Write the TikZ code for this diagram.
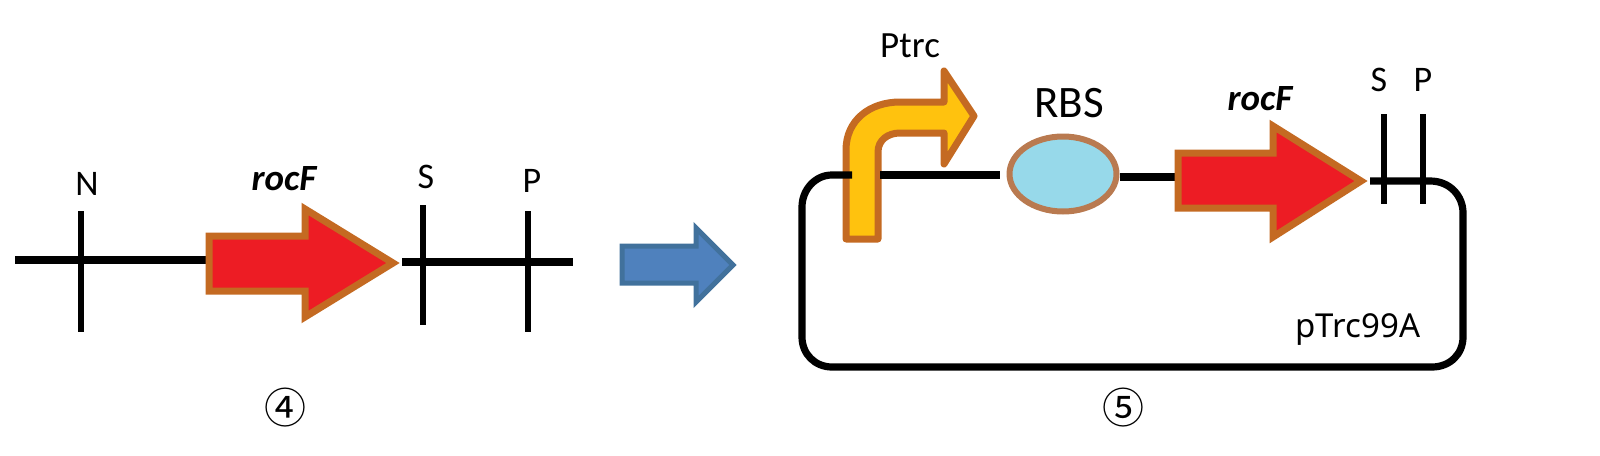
\documentclass[tikz,border=0pt]{standalone}
\usepackage{fontspec}
\setmainfont{Carlito}
\newfontfamily\circfont{Noto Sans CJK SC}
\newfontfamily\vecfont{Noto Sans}
\definecolor{geneedge}{HTML}{C46A22}
\definecolor{genered}{HTML}{ED1C24}
\definecolor{promfill}{HTML}{FFC20E}
\definecolor{rbsfill}{HTML}{97D9EA}
\definecolor{rbsedge}{HTML}{B97A50}
\definecolor{blueedge}{HTML}{41719C}
\definecolor{bluefill}{HTML}{4F81BD}
\tikzset{
  dnaline/.style={line width=7.2pt,black,line cap=butt},
  sitemark/.style={line width=6.6pt,black},
  genearrow/.style={draw=geneedge,fill=genered,line width=7pt,miter limit=10},
  promarrow/.style={draw=geneedge,fill=promfill,line width=7pt,line join=round},
  bigarrow/.style={draw=blueedge,fill=bluefill,line width=5pt},
  rbsshape/.style={ellipse,draw=rbsedge,fill=rbsfill,line width=6pt,inner sep=0pt,minimum width=107pt,minimum height=75pt},
  lab/.style={anchor=base,inner sep=0pt,text=black,font=\fontsize{36}{36}\selectfont},
  genelab/.style={anchor=base,inner sep=0pt,text=black,font=\fontsize{37}{37}\selectfont\bfseries\itshape},
  circlab/.style={anchor=center,inner sep=0pt,text=black,font=\fontsize{42}{42}\selectfont\circfont},
}
\usetikzlibrary{shapes.geometric}
\begin{document}
\begin{tikzpicture}[x=1pt,y=-1pt]
\useasboundingbox (0,0) rectangle (1600,455);
% left construct
\coordinate (lstart) at (15,260);
\coordinate (ltail) at (209,260);
\coordinate (lend) at (573,262);
\coordinate (lseg) at (402,262);
\draw[dnaline] (lstart) -- (ltail);
\draw[dnaline] (lseg) -- (lend);
\coordinate (nt) at (81,211); \coordinate (nb) at (81,332);
\coordinate (st) at (423,205); \coordinate (sb) at (423,325);
\coordinate (pt) at (528,211); \coordinate (pb) at (528,332);
\draw[sitemark] (nt) -- (nb);
\draw[sitemark] (st) -- (sb);
\draw[sitemark] (pt) -- (pb);
\draw[genearrow] (209,236) -- (305,236) -- (305,209) -- (393,263) -- (305,317) -- (305,291) -- (209,291) -- cycle;
\node[lab] (labN) at (87,195) {N};
\node[lab] (labS) at (426,188) {S};
\node[lab] (labP) at (532,192) {P};
\node[genelab] (labrocl) at (284,190) {rocF};
\node[circlab] (four) at (285,408) {④};
% big arrow
\draw[bigarrow] (622,246) -- (696,246) -- (696,228) -- (733,265) -- (696,302) -- (696,283) -- (622,283) -- cycle;
% plasmid
\node[rbsshape] (rbs) at (1063,174) {};
\coordinate (tailr) at (1178,177);
\coordinate (ptstart) at (880,175);
\coordinate (rbsl) at (1000,175);
\coordinate (rbsr) at (1120,177);
\coordinate (tipr) at (1370,181);
\draw[promarrow] (846,239) -- (846,150) .. controls (846,120) and (870,102) .. (900,102) -- (944,102) -- (944,71) -- (974,116) -- (944,164) -- (944,133) -- (900,133) .. controls (888,133) and (878,140) .. (878,152) -- (878,239) -- cycle;
\draw[dnaline] (ptstart) -- (rbsl);
\draw[dnaline] (rbsr) -- (tailr);
\draw[dnaline] (852,175) -- (832,175) .. controls (815,175) and (802,190) .. (802,207) -- (802,337) .. controls (802,354) and (815,367) .. (832,367) -- (1432,367) .. controls (1450,367) and (1463,354) .. (1463,337) -- (1463,213) .. controls (1463,196) and (1450,181) .. (1430,181) -- (tipr);
\draw[genearrow] (1178,153) -- (1273,153) -- (1273,126) -- (1361,181) -- (1273,237) -- (1273,208) -- (1178,208) -- cycle;
\coordinate (s2t) at (1384,114); \coordinate (s2b) at (1384,204);
\coordinate (p2t) at (1423,114); \coordinate (p2b) at (1423,204);
\draw[sitemark] (s2t) -- (s2b);
\draw[sitemark] (p2t) -- (p2b);
\node[lab] (labS2) at (1379,91) {S};
\node[lab] (labP2) at (1423,91) {P};
\node[genelab] (labrocr) at (1260,110) {rocF};
\node[anchor=base,inner sep=0pt,font=\fontsize{45}{45}\selectfont] (labRBS) at (1069,117) {RBS};
\node[anchor=base,inner sep=0pt,font=\fontsize{37}{37}\selectfont] (labPtrc) at (910,57) {Ptrc};
\node[anchor=base,inner sep=0pt,font=\fontsize{33}{33}\selectfont\vecfont] (labvec) at (1358,337) {pTrc99A};
\node[circlab] (five) at (1123,408) {⑤};
\end{tikzpicture}
\end{document}
